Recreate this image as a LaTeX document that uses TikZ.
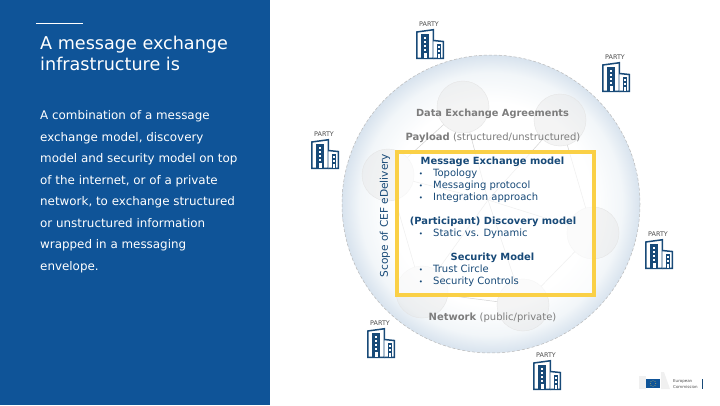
\documentclass[tikz,border=0pt]{standalone}
\usepackage{fontspec}
\setmainfont{DejaVu Sans}
\usepackage{xcolor}
\definecolor{figpanel}{RGB}{15,84,152}
\definecolor{figblue}{RGB}{24,74,120}
\definecolor{figyellow}{RGB}{250,208,70}
\definecolor{figgray}{RGB}{125,125,125}
\definecolor{figglow}{RGB}{242,246,249}
\definecolor{figedge}{RGB}{216,227,238}
\usetikzlibrary{positioning,calc}
\pgfdeclareradialshading{sphereglow}{\pgfpointorigin}{
  color(0bp)=(white); color(17bp)=(white); color(22bp)=(figglow);
  color(25bp)=(figedge); color(50bp)=(figedge)}
\tikzset{
  bubble/.style={circle,draw=gray!20,fill=gray!20,fill opacity=0.4,minimum size=52pt,inner sep=0pt},
  link/.style={gray!35,line width=0.5pt},
  heading/.style={font=\fontsize{9.9}{10}\selectfont\bfseries,text=figblue},
  item/.style={font=\fontsize{10}{10}\selectfont,text=figblue,anchor=base west},
  dotmark/.style={font=\fontsize{7}{7}\selectfont,text=figblue,anchor=base},
  grayline/.style={font=\fontsize{10}{10}\selectfont,text=figgray,anchor=base},
  partylabel/.style={font=\fontsize{6.4}{6.4}\selectfont,text=black!70,inner sep=0pt},
  party/.pic={
    \draw[figblue,line width=1.5pt,fill=white] (0.75,29.25) -- (0.75,3) -- (17.25,0.75) -- (17.25,29.25) -- cycle;
    \draw[figblue,line width=1.5pt,fill=white] (17.25,11.5) -- (27.25,12.5) -- (27.25,29.25) -- (17.25,29.25);
    \fill[figblue] (5,5) rectangle (13,29);
    \fill[figblue] (20.5,15) rectangle (25,29);
    \foreach \w in {8,12,16,20} {\fill[white] (8,\w) rectangle (10,\w+1.5);}
    \fill[white] (7.5,24) rectangle (10.5,29.4);
    \foreach \w in {17,21} {\fill[white] (22,\w) rectangle (23.5,\w+1.5);}
    \fill[white] (21.8,25) rectangle (23.7,29.4);
  }
}
\begin{document}
\begin{tikzpicture}[x=1pt,y=-1pt]
\useasboundingbox (0,0) rectangle (720,405);
\fill[figpanel] (0,0) rectangle (270,405);
\coordinate (ruleL) at (36,23.5);
\coordinate (ruleR) at (83,23.5);
\draw[white,line width=1.6pt] (ruleL) -- (ruleR);
\node[anchor=base west,inner sep=0pt,text=white,align=left,font=\fontsize{17.6}{20.5}\selectfont] (title) at (40,70) {A message exchange\\infrastructure is};
\node[anchor=base west,inner sep=0pt,text=white,align=left,font=\fontsize{11.9}{21.5}\selectfont] (body) at (40,270) {A combination of a message\\exchange model, discovery\\model and security model on top\\of the internet, or of a private\\network, to exchange structured\\or unstructured information\\wrapped in a messaging\\envelope.};
\shade[shading=sphereglow] (491,204) circle (149);
\draw[gray!55,line width=0.5pt,densely dashed] (491,204) circle (149);
\coordinate (hub) at (488,200);
\node[bubble] (topA) at (463,107) {};
\node[bubble] (topB) at (560,120) {};
\node[bubble] (sideL) at (388,175) {};
\node[bubble] (sideR) at (593,233) {};
\node[bubble] (lowL) at (422,292) {};
\node[bubble] (lowR) at (523,305) {};
\foreach \a/\b in {topA/sideL,topA/hub,topB/hub,topB/sideR,sideL/hub,sideL/lowL,lowL/hub,lowR/hub,lowL/lowR,lowR/sideR,sideR/hub}
  \draw[link] (\a) -- (\b);
\node[draw=figyellow,line width=4pt,fill=white,fill opacity=0.65,draw opacity=1,minimum width=197pt,minimum height=143pt,inner sep=0pt,anchor=north west] (scope) at (395,150) {};
\node[rotate=90,text=figblue,inner sep=0pt,font=\fontsize{10.6}{11}\selectfont] (cef) at (385,215.5) {Scope of CEF eDelivery};
\node[grayline,font=\fontsize{9.8}{10}\selectfont] (agree) at (492.5,116.5) {\textbf{Data Exchange Agreements}};
\node[grayline] (payload) at (493,140.5) {\textbf{Payload} (structured/unstructured)};
\node[heading,anchor=base] (mem) at (492.5,164.5) {Message Exchange model};
\node[heading,anchor=base] (disc) at (493,224.5) {(Participant) Discovery model};
\node[heading,anchor=base] (sec) at (492.5,260.5) {Security Model};
\node[grayline] (net) at (492.5,320.5) {\textbf{Network} (public/private)};
\foreach \n/\t/\y in {a/Topology/176.5,b/Messaging protocol/188.5,c/Integration approach/200.5,d/Static vs. Dynamic/236.5,e/Trust Circle/272.5,f/Security Controls/284.5} {
  \node[dotmark] (dot\n) at (421,\y) {•};
  \node[item,inner sep=0pt] (item\n) at (433,\y) {\t};
}
\foreach \n/\x/\y in {A/416/29,B/602/62,C/311/139,D/367/328,E/533/360,F/645/239} {
  \node[partylabel,anchor=south] (party\n) at (\x+13,\y-2) {PARTY};
  \pic at (\x,\y) {party};
}
\fill[gray!12] (639,376) rectangle (646,389);
\fill[gray!12] (661,372) -- (664,372) -- (670,389) -- (661,389) -- cycle;
\fill[figpanel] (646,379) rectangle (660,388);
\foreach \s in {0,45,...,315}
  \fill[figyellow] ($(653,383.5)+(\s:2.8)$) circle (0.35);
\node[anchor=west,inner sep=0pt,align=left,text=black!70,font=\fontsize{4}{5.5}\selectfont] (logo) at (673,384) {European\\Commission};
\coordinate (barT) at (702,379);
\coordinate (barB) at (702,389);
\draw[figblue,line width=0.7pt] (barT) -- (barB);
\end{tikzpicture}
\end{document}
